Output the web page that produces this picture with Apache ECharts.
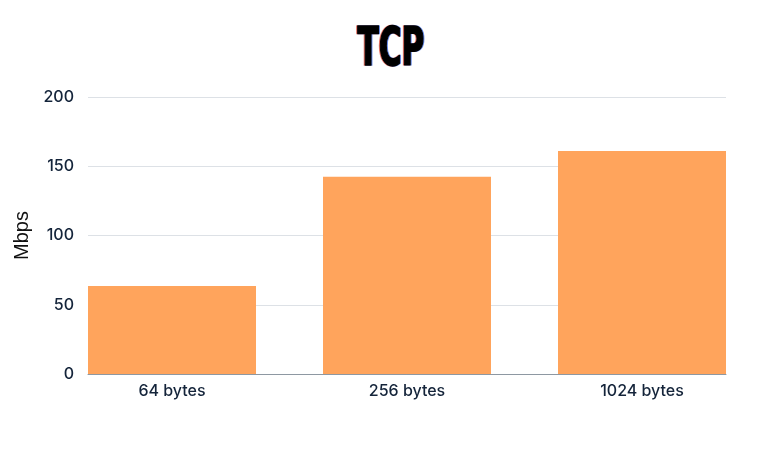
<!DOCTYPE html>
<html>
<head>
<meta charset="utf-8">
<script src="https://cdn.jsdelivr.net/npm/echarts@6/dist/echarts.min.js"></script>
<style>
  html, body { margin: 0; padding: 0; background: #fff; }
  #chart { width: 784px; height: 460px; }
</style>
</head>
<body>
<div id="chart"></div>
<script>
const categories = ['64 bytes', '256 bytes', '1024 bytes']
const mbps = [63.5, 142.5, 161]
const yTicks = [0, 50, 100, 150, 200]

const chart = echarts.init(document.getElementById('chart'))

// bars sit flush with both ends of the plot, so x is a value axis
const halfBar = 84 / 235
const titleFont = 'bold 54px "DejaVu Sans Condensed", sans-serif'
const titleText = (dx, fill) => ({
  type: 'text',
  x: 391 + dx,
  y: 51,
  scaleX: 0.64,
  style: { text: 'TCP', x: 0, y: 0, textAlign: 'center', textVerticalAlign: 'middle', font: titleFont, fill: fill, stroke: fill, lineWidth: 1.5 }
})

const labelStyle = { color: '#14243a', fontFamily: 'Inter', fontWeight: 500, fontSize: 16 }

chart.setOption({
  backgroundColor: '#fff',
  animation: false,
  graphic: [
    titleText(-1, 'rgba(220, 60, 40, 0.6)'),
    titleText(1, 'rgba(40, 90, 220, 0.6)'),
    titleText(0, '#000')
  ],
  grid: { left: 88, right: 58, top: 97, bottom: 86 },
  xAxis: {
    type: 'value',
    min: -halfBar,
    max: categories.length - 1 + halfBar,
    splitLine: { show: false },
    axisTick: { show: false },
    axisLine: { show: true, onZero: false, lineStyle: { color: '#8e98a2', width: 1 } },
    axisLabel: Object.assign({
      customValues: [0, 1, 2],
      formatter: v => categories[Math.round(v)],
      margin: 9
    }, labelStyle)
  },
  yAxis: {
    type: 'value',
    min: yTicks[0],
    max: yTicks[yTicks.length - 1],
    interval: 50,
    name: 'Mbps',
    nameLocation: 'middle',
    nameGap: 56,
    nameTextStyle: { color: '#111', fontFamily: 'Liberation Sans', fontSize: 20 },
    axisLine: { show: false },
    axisTick: { show: false },
    splitLine: { lineStyle: { color: '#dde1e6', width: 1 } },
    axisLabel: Object.assign({ margin: 14 }, labelStyle)
  },
  series: [
    {
      type: 'bar',
      data: mbps.map((v, i) => [i, v]),
      barWidth: 168,
      itemStyle: { color: '#ffa45c' }
    }
  ]
})
</script>
</body>
</html>
